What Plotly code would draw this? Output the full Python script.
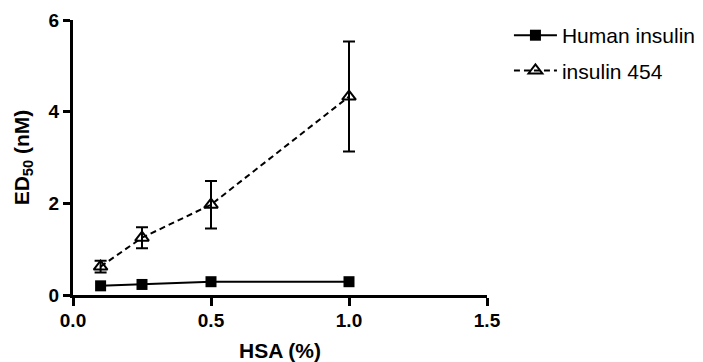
import plotly.graph_objects as go

# HSA concentration (%) and ED50 values (nM)
hsa = [0.1, 0.25, 0.5, 1.0]
human_insulin = [0.20, 0.23, 0.29, 0.29]
insulin_454 = [0.62, 1.25, 1.97, 4.33]
insulin_454_err = [0.13, 0.23, 0.52, 1.20]

x_ticks = [0, 0.5, 1.0, 1.5]
x_tick_labels = ["0.0", "0.5", "1.0", "1.5"]
y_ticks = [0, 2, 4, 6]
y_tick_labels = ["0", "2", "4", "6"]

FONT = "Liberation Sans, Arial, sans-serif"

fig = go.Figure()

fig.add_trace(go.Scatter(
    x=hsa, y=human_insulin, name="Human insulin",
    mode="lines+markers", legendgroup="hi",
    line=dict(color="black", width=2),
    marker=dict(symbol="square", size=11, color="black"),
    cliponaxis=False,
))

fig.add_trace(go.Scatter(
    x=hsa, y=insulin_454, name="insulin 454",
    mode="lines+markers", legendgroup="i454",
    line=dict(color="black", width=2, dash="6px,4px"),
    marker=dict(symbol="triangle-up-open", size=12, color="black",
                line=dict(width=2, color="black")),
    error_y=dict(type="data", array=insulin_454_err, visible=True,
                 color="black", thickness=2, width=6),
    cliponaxis=False,
))

fig.update_layout(
    width=703, height=362,
    margin=dict(l=73, r=216, t=20, b=67, autoexpand=False),
    paper_bgcolor="white", plot_bgcolor="white",
    font=dict(family=FONT, color="black"),
    showlegend=True,
    legend=dict(
        x=1.053, xanchor="left", xref="paper",
        y=1.018, yanchor="top",
        font=dict(family=FONT, size=21, color="black"),
        bgcolor="rgba(0,0,0,0)",
        itemwidth=43,
        tracegroupgap=5,
    ),
)

fig.update_xaxes(
    range=[0, 1.5], automargin=False,
    tickmode="array", tickvals=x_ticks, ticktext=x_tick_labels,
    ticks="outside", ticklen=8, tickwidth=3, tickcolor="black",
    ticklabelstandoff=-2,
    showline=True, linecolor="black", linewidth=3,
    showgrid=False, zeroline=False,
    tickfont=dict(family=FONT, size=19, weight="bold"),
    title=dict(text="<b>HSA (%)</b>", font=dict(family=FONT, size=21), standoff=19),
)

fig.update_yaxes(
    range=[0, 6], automargin=False,
    tickmode="array", tickvals=y_ticks, ticktext=y_tick_labels,
    ticks="outside", ticklen=7, tickwidth=3, tickcolor="black",
    ticklabelstandoff=0,
    showline=True, linecolor="black", linewidth=3,
    showgrid=False, zeroline=False,
    tickfont=dict(family=FONT, size=19, weight="bold"),
    title=dict(text="<b>ED<sub>50</sub> (nM)</b>", font=dict(family=FONT, size=21), standoff=14),
)

fig.write_html("out.html")
